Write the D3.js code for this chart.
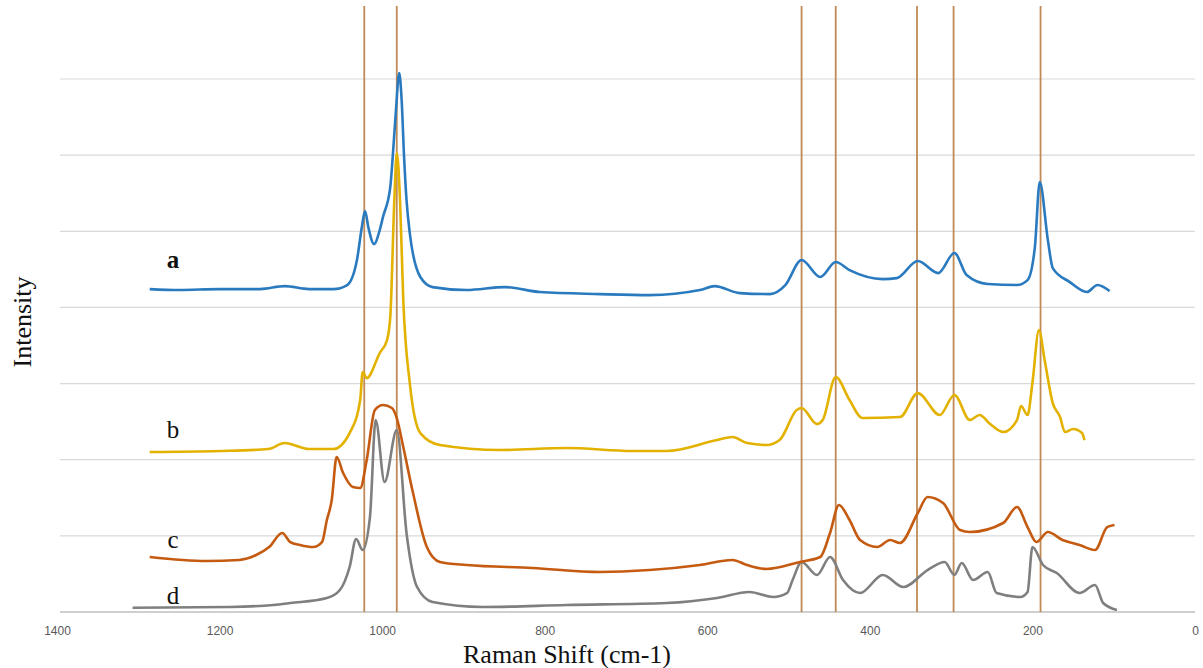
<!DOCTYPE html>
<html>
<head>
<meta charset="utf-8">
<script src="https://cdn.jsdelivr.net/npm/d3@7"></script>
<style>
  body { margin: 0; background: #fff; }
  svg { display: block; }
</style>
</head>
<body>
<svg id="chart" width="1203" height="668"></svg>
<script>
// tick labels on the x axis (Raman shift, reversed)
const xTicks = [1400, 1200, 1000, 800, 600, 400, 200, 0];
const yGrid = [1000, 2000, 3000, 4000, 5000, 6000, 7000];

// marked band positions (cm-1)
const bandLines = [1022, 982, 484, 442, 342, 297, 190];

// spectra: [shift, intensity]
const seriesA = [
    [1286, 4241], [1250, 4228], [1200, 4241], [1150, 4241], [1120, 4280], [1090, 4241],
    [1060, 4241], [1043, 4294], [1031, 4622], [1025, 5054], [1021, 5265], [1017, 5054],
    [1010, 4832], [1003, 5015], [999, 5186], [990, 5580], [987, 5974], [983, 6591],
    [979, 7077], [976, 6722], [973, 5974], [970, 5410], [966, 4976], [953, 4399],
    [938, 4267], [896, 4228], [849, 4267], [806, 4202], [732, 4175], [671, 4162],
    [609, 4228], [591, 4280], [560, 4188], [523, 4175], [504, 4294], [484, 4622],
    [461, 4399], [442, 4596], [425, 4490], [384, 4372], [367, 4385], [341, 4609],
    [316, 4451], [296, 4714], [281, 4425], [255, 4307], [219, 4294], [206, 4359],
    [197, 4792], [191, 5646], [181, 4884], [175, 4517], [154, 4333], [133, 4202],
    [120, 4294], [105, 4215]
];

const seriesB = [
    [1286, 2101], [1200, 2114], [1140, 2140], [1120, 2219], [1090, 2140], [1060, 2140],
    [1040, 2350], [1027, 2784], [1024, 3151], [1019, 3072], [1003, 3401], [994, 3571],
    [990, 3873], [985, 5410], [982, 6027], [978, 5410], [974, 4097], [966, 3007],
    [953, 2350], [929, 2193], [855, 2127], [773, 2153], [692, 2114], [650, 2114],
    [588, 2258], [569, 2298], [551, 2219], [527, 2193], [511, 2258], [490, 2652],
    [484, 2679], [465, 2468], [458, 2521], [442, 3086], [425, 2784], [409, 2547],
    [363, 2560], [341, 2875], [314, 2587], [296, 2849], [277, 2521], [265, 2587],
    [252, 2468], [236, 2363], [219, 2521], [214, 2705], [206, 2587], [200, 3007],
    [192, 3703], [185, 3309], [175, 2744], [166, 2560], [160, 2363], [150, 2403],
    [139, 2350], [136, 2258]
];

const seriesC = [
    [1286, 722], [1216, 670], [1176, 683], [1155, 748], [1139, 853], [1123, 1037],
    [1113, 919], [1101, 880], [1085, 853], [1074, 919], [1068, 1208], [1062, 1471],
    [1056, 2035], [1048, 1825], [1036, 1641], [1027, 1628], [1019, 1996], [1009, 2652],
    [999, 2718], [988, 2679], [982, 2547], [974, 2166], [962, 1562], [945, 853],
    [929, 657], [896, 617], [815, 578], [732, 525], [671, 551], [609, 617], [569, 683],
    [551, 617], [527, 565], [486, 657], [461, 722], [449, 1037], [438, 1405], [425, 1208],
    [412, 945], [391, 853], [375, 945], [363, 906], [341, 1300], [329, 1510], [310, 1431],
    [289, 1077], [277, 1050], [236, 1169], [219, 1379], [206, 1116], [195, 919],
    [181, 1050], [163, 945], [142, 880], [123, 814], [108, 1116], [99, 1142]
];

const seriesD = [
    [1307, 55], [1187, 66], [1134, 92], [1113, 118], [1068, 184], [1052, 289],
    [1040, 591], [1032, 958], [1024, 814], [1015, 1247], [1008, 2521], [997, 1707],
    [982, 2390], [970, 1037], [957, 328], [938, 131], [876, 66], [773, 92], [650, 118],
    [588, 184], [548, 263], [519, 197], [502, 249], [495, 420], [484, 657], [465, 486],
    [449, 722], [433, 420], [412, 249], [384, 486], [359, 328], [329, 551], [308, 657],
    [296, 486], [287, 643], [273, 420], [255, 525], [244, 249], [215, 197], [206, 263],
    [200, 853], [187, 617], [170, 512], [142, 249], [123, 355], [113, 118], [96, 26]
];

const seriesNames = ["a", "b", "c", "d"];
const seriesColors = ["#2a7abf", "#e3b200", "#c55a11", "#7f7f7f"];
const labelPos = [4520, 2280, 840, 105]; // intensity where each letter sits

const svg = d3.select("#chart");

const x = d3.scaleLinear().domain([1400, 0]).range([57, 1195]);
const y = d3.scaleLinear().domain([0, 7000]).range([612, 79]);

// horizontal grid
svg.append("g")
    .selectAll("line")
    .data(yGrid)
    .enter().append("line")
    .attr("x1", 60).attr("x2", 1195)
    .attr("y1", d => y(d)).attr("y2", d => y(d))
    .attr("stroke", "#d9d9d9")
    .attr("stroke-width", 1.2);

// x axis
const xAxis = svg.append("g")
    .attr("transform", "translate(0," + y(0) + ")")
    .call(d3.axisBottom(x).tickValues(xTicks).tickFormat(d3.format("d"))
        .tickSize(0).tickPadding(14));
xAxis.select(".domain").attr("stroke", "#bfbfbf").attr("stroke-width", 1.3)
    .attr("d", "M60,0H1195");
xAxis.selectAll("text")
    .attr("fill", "#595959")
    .style("font-family", "'Liberation Sans', Arial, sans-serif")
    .style("font-size", "12px");

// band marker lines
svg.append("g")
    .selectAll("line")
    .data(bandLines)
    .enter().append("line")
    .attr("x1", d => x(d)).attr("x2", d => x(d))
    .attr("y1", 6).attr("y2", y(0))
    .attr("stroke", "#c08a56")
    .attr("stroke-width", 1.8);

const line = d3.line()
    .x(d => x(d[0]))
    .y(d => y(d[1]))
    .curve(d3.curveMonotoneX);

const allSeries = [seriesA, seriesB, seriesC, seriesD];

// draw d first so the coloured ones sit on top
[3, 2, 1, 0].forEach(i => {
    svg.append("path")
        .datum(allSeries[i])
        .attr("fill", "none")
        .attr("stroke", seriesColors[i])
        .attr("stroke-width", 2.6)
        .attr("stroke-linejoin", "round")
        .attr("d", line);
});

// letters beside each trace ("a" is set heavier in the original)
svg.append("g")
    .selectAll("text")
    .data(seriesNames)
    .enter().append("text")
    .attr("x", 173)
    .attr("y", (d, i) => y(labelPos[i]))
    .attr("text-anchor", "middle")
    .style("font-family", "'Liberation Serif', 'Times New Roman', serif")
    .style("font-size", "25px")
    .style("font-weight", (d, i) => i === 0 ? "bold" : "normal")
    .attr("fill", "#111")
    .text(d => d);

// axis titles
svg.append("text")
    .attr("x", 567)
    .attr("y", 663)
    .attr("text-anchor", "middle")
    .style("font-family", "'Liberation Serif', 'Times New Roman', serif")
    .style("font-size", "26px")
    .attr("fill", "#111")
    .text("Raman Shift (cm-1)");

svg.append("text")
    .attr("transform", "translate(31,322) rotate(-90)")
    .attr("text-anchor", "middle")
    .style("font-family", "'Liberation Serif', 'Times New Roman', serif")
    .style("font-size", "26px")
    .attr("fill", "#111")
    .text("Intensity");
</script>
</body>
</html>
